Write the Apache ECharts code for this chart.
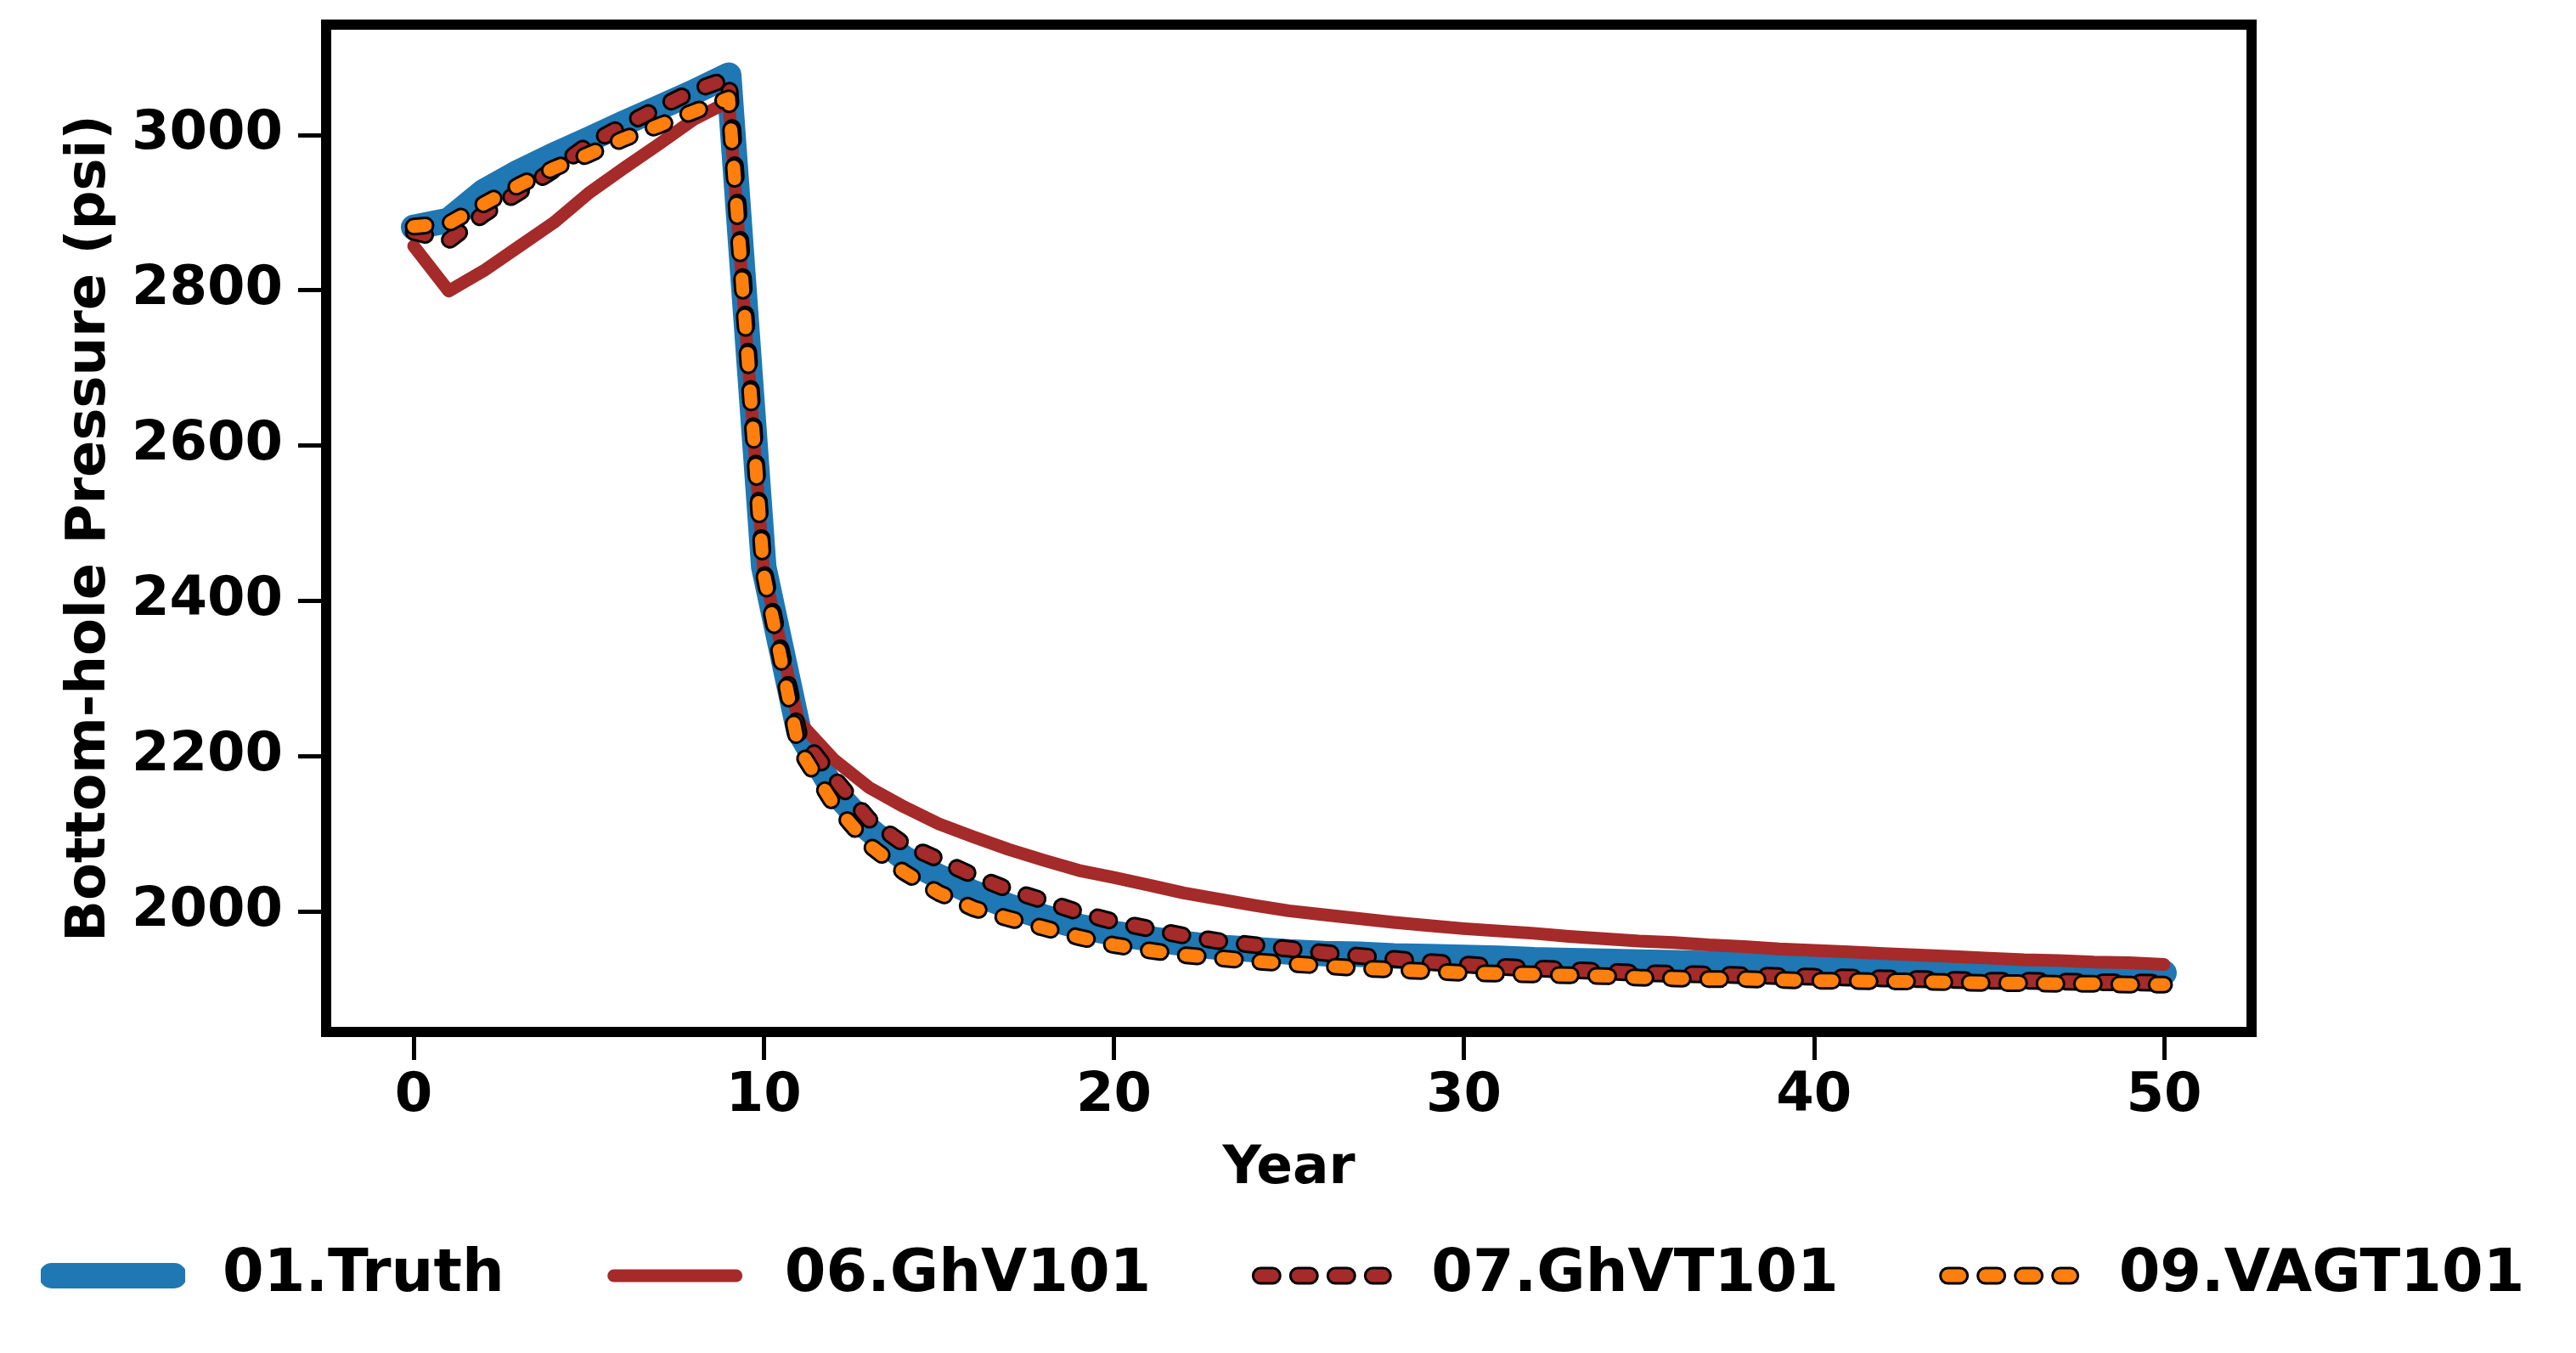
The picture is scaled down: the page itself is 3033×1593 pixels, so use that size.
<!DOCTYPE html>
<html>
<head>
<meta charset="utf-8">
<title>Bottom-hole Pressure</title>
<script src="https://cdn.jsdelivr.net/npm/echarts@6/dist/echarts.min.js"></script>
<style>
    html, body { margin: 0; padding: 0; background: #fff; }
    #wrap { position: relative; width: 3033px; height: 1593px; }
    #chart, #ticks { position: absolute; left: 0; top: 0; width: 3033px; height: 1593px; }
    #ticks { pointer-events: none; }
</style>
</head>
<body>
<div id="wrap">
    <div id="chart"></div>
    <div id="ticks"></div>
</div>
<script>
// years 0..50
var years = [];
for (var i = 0; i <= 50; i++) { years.push(i); }

var truth = [2881, 2890, 2927, 2952, 2974, 2994, 3015, 3035, 3055, 3077,
    2444, 2233, 2156, 2106, 2069, 2045, 2024, 2007, 1993, 1981,
    1972, 1965, 1959, 1954, 1951, 1948, 1946, 1945, 1943, 1942,
    1941, 1940, 1938, 1937, 1936, 1935, 1934, 1933, 1932, 1931,
    1930, 1929, 1928, 1927, 1926, 1925, 1924, 1924, 1923, 1922, 1921];

var ghv101 = [2857, 2799, 2825, 2856, 2887, 2925, 2957, 2988, 3020, 3043,
    2438, 2245, 2196, 2160, 2135, 2113, 2096, 2080, 2066, 2053,
    2044, 2034, 2024, 2016, 2008, 2001, 1996, 1991, 1986, 1982,
    1978, 1975, 1972, 1968, 1965, 1962, 1960, 1957, 1955, 1952,
    1950, 1948, 1946, 1944, 1942, 1940, 1938, 1937, 1935, 1934, 1932];

var ghvt101 = [2875, 2864, 2898, 2926, 2955, 2988, 3012, 3035, 3057, 3073,
    2440, 2229, 2172, 2119, 2087, 2067, 2046, 2028, 2014, 1999,
    1987, 1978, 1969, 1962, 1957, 1952, 1947, 1943, 1939, 1935,
    1932, 1929, 1927, 1925, 1923, 1921, 1920, 1919, 1918, 1917,
    1916, 1915, 1914, 1913, 1912, 1911, 1911, 1910, 1909, 1909, 1908];

var vagt101 = [2882, 2886, 2911, 2935, 2957, 2975, 2995, 3012, 3030, 3047,
    2435, 2210, 2138, 2086, 2051, 2024, 2004, 1991, 1979, 1967,
    1957, 1950, 1944, 1940, 1936, 1933, 1930, 1927, 1925, 1923,
    1921, 1920, 1919, 1918, 1917, 1915, 1914, 1913, 1913, 1912,
    1911, 1911, 1910, 1910, 1909, 1908, 1908, 1907, 1907, 1906, 1906];

var xTicks = [0, 10, 20, 30, 40, 50];
var yTicks = [2000, 2200, 2400, 2600, 2800, 3000];
var xRange = [-2.5, 52.5];
var yRange = [1845, 3142];

var FONT = 'DejaVu Sans';
var DASH = [14, 30];
var DASH_W = 15, EDGE_W = 21;
var FRAME_W = 12;
var PLOT = { left: 384, right: 382, top: 29, bottom: 378 };

function pairs(ys) {
    return years.map(function (x, k) { return [x, ys[k]]; });
}

// legend handle as a small svg
function svgIcon(inner) {
    var svg = '<svg xmlns="http://www.w3.org/2000/svg" width="170" height="40" viewBox="0 0 170 40">' + inner + '</svg>';
    return 'image://data:image/svg+xml;charset=utf-8,' + encodeURIComponent(svg);
}
function solidHandle(color, w) {
    return svgIcon('<line x1="13" y1="20" x2="157" y2="20" stroke="' + color + '" stroke-width="' + w + '" stroke-linecap="round"/>');
}
function dashHandle(color) {
    var common = 'x1="13" y1="20" x2="157" y2="20" stroke-linecap="round" stroke-dasharray="' + DASH.join(' ') + '"';
    return svgIcon('<line ' + common + ' stroke="#000" stroke-width="' + EDGE_W + '"/>' +
        '<line ' + common + ' stroke="' + color + '" stroke-width="' + DASH_W + '"/>');
}

function lineSeries(name, data, color, width, dashed) {
    return {
        name: name,
        type: 'line',
        data: pairs(data),
        showSymbol: false,
        lineStyle: {
            color: color,
            width: width,
            type: dashed ? DASH : 'solid',
            cap: 'round',
            join: 'round'
        }
    };
}

// axis with the labels and the title
function labelAxis(range, ticks, margin, name, gap) {
    return {
        type: 'value',
        min: range[0],
        max: range[1],
        name: name,
        nameLocation: 'middle',
        nameGap: gap,
        nameTextStyle: { fontFamily: FONT, fontWeight: 'bold', fontSize: 63, color: '#000' },
        axisLine: { show: false, onZero: false },
        axisTick: { show: false },
        splitLine: { show: false },
        axisLabel: {
            customValues: ticks,
            margin: margin,
            fontFamily: FONT,
            fontWeight: 'bold',
            fontSize: 64,
            color: '#000',
            formatter: function (v) { return String(v); }
        }
    };
}

// same scale on a plain overlay chart, carrying only the tick marks
function tickAxis(range, ticks) {
    return {
        type: 'value',
        min: range[0],
        max: range[1],
        axisLine: { show: true, onZero: false, lineStyle: { color: '#000', width: FRAME_W } },
        splitLine: { show: false },
        axisTick: {
            show: true,
            inside: false,
            length: 33,
            customValues: ticks,
            lineStyle: { color: '#000', width: 5 }
        },
        axisLabel: { customValues: ticks, fontSize: 40, color: 'rgba(0,0,0,0)' }
    };
}

var yMain = labelAxis(yRange, yTicks, 51, 'Bottom-hole Pressure (psi)', 246);
yMain.nameRotate = 90;
yMain.nameTextStyle.fontSize = 64;

var myChart = echarts.init(document.getElementById('chart'));
myChart.setOption({
    animation: false,
    backgroundColor: '#fff',
    grid: {
        left: PLOT.left, right: PLOT.right, top: PLOT.top, bottom: PLOT.bottom,
        show: true, borderColor: '#000', borderWidth: FRAME_W
    },
    legend: {
        left: 43,
        top: 1462,
        itemWidth: 170,
        itemHeight: 40,
        itemGap: 116,
        textStyle: {
            fontFamily: FONT,
            fontWeight: 'bold',
            fontSize: 70,
            color: '#000',
            padding: [0, 0, 0, 39]
        },
        data: [
            { name: '01.Truth', icon: solidHandle('#1f77b4', 30) },
            { name: '06.GhV101', icon: solidHandle('#a52a2a', 15) },
            { name: '07.GhVT101', icon: dashHandle('#a52a2a') },
            { name: '09.VAGT101', icon: dashHandle('#ff7f0e') }
        ]
    },
    xAxis: labelAxis(xRange, xTicks, 44, 'Year', 130),
    yAxis: yMain,
    series: [
        lineSeries('01.Truth', truth, '#1f77b4', 30, false),
        lineSeries('06.GhV101', ghv101, '#a52a2a', 15, false),
        // black edge under each dashed line
        lineSeries('07.GhVT101 edge', ghvt101, '#000', EDGE_W, true),
        lineSeries('07.GhVT101', ghvt101, '#a52a2a', DASH_W, true),
        lineSeries('09.VAGT101 edge', vagt101, '#000', EDGE_W, true),
        lineSeries('09.VAGT101', vagt101, '#ff7f0e', DASH_W, true)
    ]
});

// tick marks on a transparent chart laid over the first one
var tickChart = echarts.init(document.getElementById('ticks'));
tickChart.setOption({
    animation: false,
    backgroundColor: 'transparent',
    grid: { left: PLOT.left, right: PLOT.right, top: PLOT.top, bottom: PLOT.bottom, show: false },
    xAxis: tickAxis(xRange, xTicks),
    yAxis: tickAxis(yRange, yTicks),
    series: [{ type: 'line', data: [], silent: true }]
});
</script>
</body>
</html>
